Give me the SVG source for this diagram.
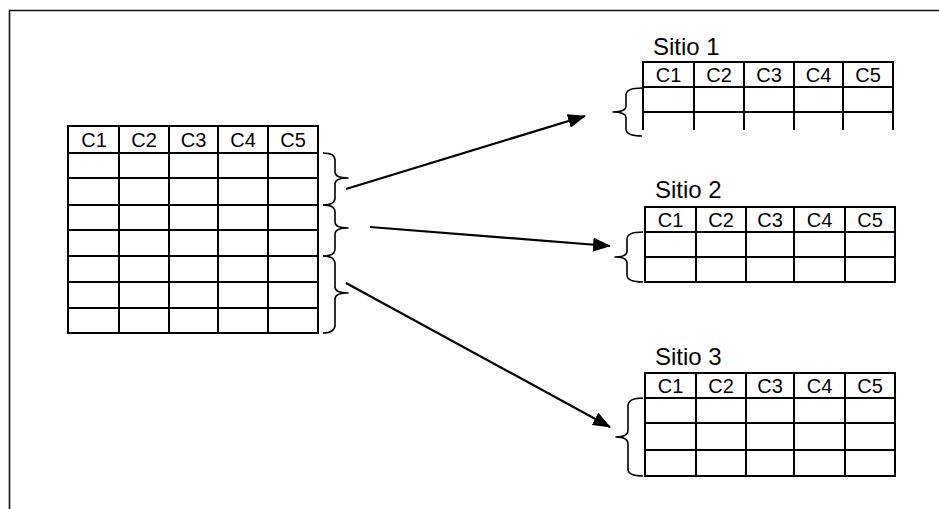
<svg xmlns="http://www.w3.org/2000/svg" width="939" height="509" viewBox="0 0 939 509">
  <style>
    .grid { fill: none; stroke: #000; stroke-width: 2; }
    .brace { fill: none; stroke: #000; stroke-width: 1.6; stroke-linejoin: round; }
    .hdr { font-family: "Liberation Sans", Arial, sans-serif; font-size: 20px; fill: #000; text-anchor: middle; }
    .title { font-family: "Liberation Sans", Arial, sans-serif; font-size: 24px; fill: #000; }
    .conn { stroke: #000; stroke-width: 2.2; fill: none; marker-end: url(#head); }
  </style>
  <defs>
    <marker id="head" markerUnits="userSpaceOnUse" markerWidth="18" markerHeight="14" refX="17" refY="7" orient="auto">
      <path d="M0,0 L18,7 L0,14 Z" fill="#000"/>
    </marker>
  </defs>

  <rect width="939" height="509" fill="#fff"/>
  <!-- page frame -->
  <path d="M9.5,509 L9.5,10.5 L939,10.5" fill="none" stroke="#111" stroke-width="1.6"/>

  <!-- source table -->
  <g id="source-table">
    <rect class="grid" x="68" y="126" width="250" height="207"/>
    <path class="grid" d="M119,126V333 M169,126V333 M218,126V333 M268,126V333
      M68,153H318 M68,178H318 M68,205H318 M68,230H318 M68,256H318 M68,282H318 M68,308H318"/>
    <text class="hdr" x="94" y="147">C1</text>
    <text class="hdr" x="144" y="147">C2</text>
    <text class="hdr" x="193.5" y="147">C3</text>
    <text class="hdr" x="243" y="147">C4</text>
    <text class="hdr" x="293" y="147">C5</text>
    <!-- row group braces -->
    <path class="brace" d="M323,153 Q335,153 335,160 L335,172 Q335,178 348,178 Q335,178 335,184 L335,198 Q335,205 323,205"/>
    <path class="brace" d="M323,205 Q335,205 335,212 L335,222 Q335,228 348,228 Q335,228 335,234 L335,249 Q335,256 323,256"/>
    <path class="brace" d="M323,256 Q335,256 335,264 L335,287 Q335,293 348,293 Q335,293 335,299 L335,325 Q335,333 323,333"/>
  </g>

  <!-- Sitio 1 -->
  <g id="sitio-1">
    <text class="title" x="653" y="55">Sitio 1</text>
    <path class="grid" d="M643,130V62H893V130 M694,62V130 M744,62V130 M794,62V130 M843,62V130
      M643,87H893 M643,112H893"/>
    <text class="hdr" x="668.5" y="82">C1</text>
    <text class="hdr" x="719" y="82">C2</text>
    <text class="hdr" x="769" y="82">C3</text>
    <text class="hdr" x="818.5" y="82">C4</text>
    <text class="hdr" x="868" y="82">C5</text>
    <path class="brace" d="M642,88 Q626,88 626,95 L626,106 Q626,112 613,112 Q626,112 626,118 L626,129 Q626,136 642,136"/>
  </g>

  <!-- Sitio 2 -->
  <g id="sitio-2">
    <text class="title" x="655" y="198">Sitio 2</text>
    <rect class="grid" x="645" y="207" width="250" height="75"/>
    <path class="grid" d="M696,207V282 M746,207V282 M794,207V282 M845,207V282 M645,232H895 M645,257H895"/>
    <text class="hdr" x="670.5" y="227">C1</text>
    <text class="hdr" x="721" y="227">C2</text>
    <text class="hdr" x="770" y="227">C3</text>
    <text class="hdr" x="819.5" y="227">C4</text>
    <text class="hdr" x="870" y="227">C5</text>
    <path class="brace" d="M643,232 Q627,232 627,239 L627,251 Q627,257 615,257 Q627,257 627,263 L627,275 Q627,282 643,282"/>
  </g>

  <!-- Sitio 3 -->
  <g id="sitio-3">
    <text class="title" x="655" y="365">Sitio 3</text>
    <rect class="grid" x="645" y="373" width="250" height="103"/>
    <path class="grid" d="M696,373V476 M746,373V476 M794,373V476 M845,373V476 M645,398H895 M645,423H895 M645,450H895"/>
    <text class="hdr" x="670.5" y="393">C1</text>
    <text class="hdr" x="721" y="393">C2</text>
    <text class="hdr" x="770" y="393">C3</text>
    <text class="hdr" x="819.5" y="393">C4</text>
    <text class="hdr" x="870" y="393">C5</text>
    <path class="brace" d="M643,398 Q628,398 628,406 L628,430 Q628,437 616,437 Q628,437 628,444 L628,469 Q628,476 643,476"/>
  </g>

  <!-- connectors -->
  <g id="connectors">
    <line class="conn" x1="346" y1="189" x2="585" y2="116"/>
    <line class="conn" x1="370" y1="227" x2="610" y2="246"/>
    <line class="conn" x1="346" y1="283" x2="610" y2="427"/>
  </g>
</svg>
